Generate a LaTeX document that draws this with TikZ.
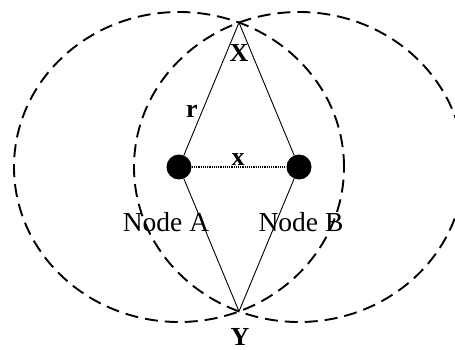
\documentclass[tikz,border=0pt]{standalone}
\usepackage{fontspec}
\setmainfont{Liberation Serif}
\usetikzlibrary{positioning}

\begin{document}
\begin{tikzpicture}[x=1pt, y=-1pt,
                dot/.style={circle, fill=black, inner sep=0pt,
                    minimum size=25pt},
                ring/.style={dash pattern=on 13pt off 7pt, line width=1.9pt},
                edge/.style={line width=0.9pt},
                nodelbl/.style={font=\fontsize{27.5}{27.5}\selectfont},
                varlbl/.style={font=\fontsize{26}{26}\selectfont\bfseries,
                    inner sep=0pt}
            ]
                \useasboundingbox (0, 0) rectangle (455, 350);

                \node[dot] (A) at (179, 167) {};
                \node[dot] (B) at (299, 167) {};
                \coordinate (X) at (239, 22.6);
                \coordinate (Y) at (239, 311.4);

                % range of each node
                \draw[ring] (A.center) ellipse [x radius=165pt, y radius=155pt];
                \draw[ring] (B.center) ellipse [x radius=165pt, y radius=155pt];

                \draw[edge] (A) -- (X) -- (B);
                \draw[edge] (A) -- (Y) -- (B);
                \draw[densely dotted, line width=1.2pt] (A) -- (B);

                \node[varlbl] (lx) at (239, 53) {X};
                \node[varlbl] (lr) at (192, 111) {r};
                \node[varlbl] (ld) at (238, 160) {x};
                \node[varlbl] (ly) at (240, 337) {Y};

                \node[nodelbl] (la) at (166, 222) {Node A};
                \node[nodelbl] (lb) at (301, 222) {Node B};

            \end{tikzpicture}
\end{document}
